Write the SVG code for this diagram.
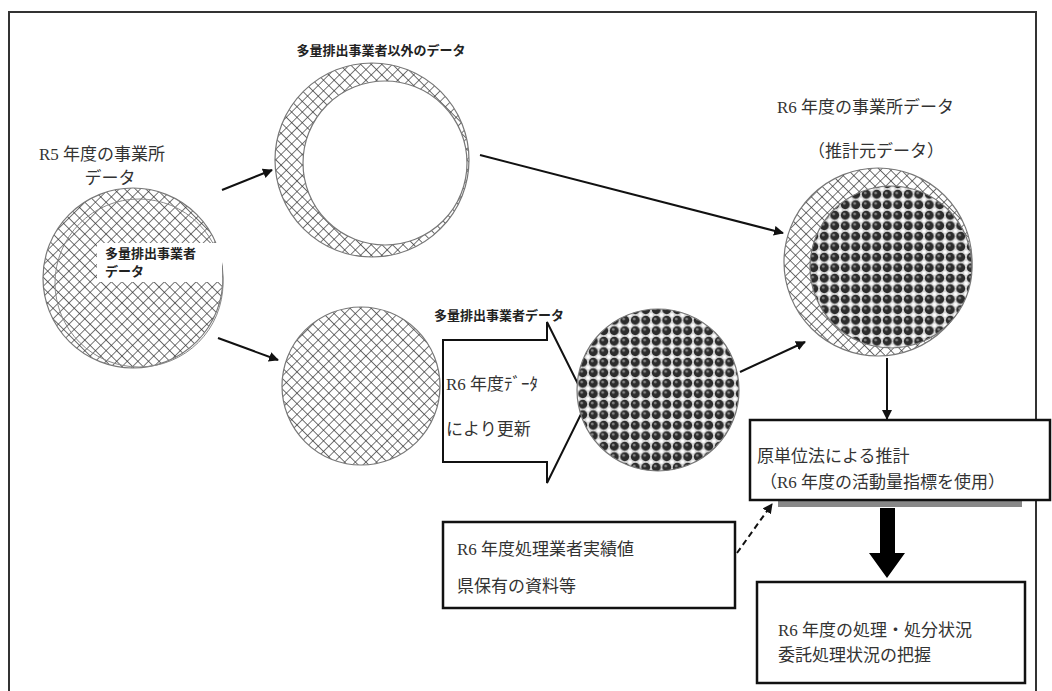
<svg xmlns="http://www.w3.org/2000/svg" width="1052" height="691" viewBox="0 0 1052 691">
<style>
.t{font-family:"Liberation Serif","Noto Sans CJK JP",serif;fill:#333;font-size:17px}
.b{font-family:"Noto Sans CJK JP","Liberation Sans",sans-serif;font-weight:bold;fill:#222;font-size:13px}
.ln{stroke:#111;stroke-width:2;fill:none}
.box{fill:#fff;stroke:#111;stroke-width:2.5}
.edge{stroke:#777;stroke-width:1.2}
</style>
<defs>
<pattern id="hatch" width="7.5" height="7.5" patternUnits="userSpaceOnUse" patternTransform="rotate(45)">
<rect width="7.5" height="7.5" fill="#fff"/>
<path d="M0 0H7.5M0 0V7.5" stroke="#333" stroke-width="1.3"/>
</pattern>
<pattern id="balls" width="10.5" height="10.5" patternUnits="userSpaceOnUse">
<rect width="10.5" height="10.5" fill="#d8d8d8"/>
<rect x="-1.6" y="-1.6" width="3.2" height="3.2" fill="#fff"/>
<rect x="8.9" y="-1.6" width="3.2" height="3.2" fill="#fff"/>
<rect x="-1.6" y="8.9" width="3.2" height="3.2" fill="#fff"/>
<rect x="8.9" y="8.9" width="3.2" height="3.2" fill="#fff"/>
<circle cx="5.25" cy="5.25" r="4.5" fill="#2c2c2c"/>
<circle cx="4.2" cy="4" r="1.3" fill="#8a8a8a"/>
</pattern>
<marker id="ah" viewBox="0 0 10 10" refX="9" refY="5" markerWidth="5" markerHeight="5" orient="auto" markerUnits="strokeWidth">
<path d="M0 0L10 5L0 10z" fill="#111"/>
</marker>
</defs>
<rect width="1052" height="691" fill="#fff"/>
<path d="M9 691V12H1036V691" fill="none" stroke="#333" stroke-width="2"/>

<g id="r5">
<text class="t" x="102" y="160" text-anchor="middle">R5 年度の事業所</text>
<text class="t" x="110" y="184" text-anchor="middle">データ</text>
<circle cx="133" cy="278" r="90" fill="url(#hatch)" class="edge"/>
<circle cx="139" cy="283" r="84" fill="none" stroke="#888" stroke-width="1"/>
<rect x="97" y="243" width="125" height="39" fill="#fff"/>
<text class="b" x="105" y="258" font-size="12">多量排出事業者</text>
<text class="b" x="105" y="276" font-size="12">データ</text>
</g>

<g id="other">
<text class="b" x="381" y="55" text-anchor="middle">多量排出事業者以外のデータ</text>
<circle cx="372" cy="160" r="97" fill="url(#hatch)" class="edge"/>
<circle cx="385" cy="163" r="82" fill="#fff" class="edge"/>
</g>

<g id="large">
<circle cx="361" cy="386" r="79" fill="url(#hatch)" class="edge"/>
</g>

<g id="update">
<text class="b" x="434" y="320">多量排出事業者データ</text>
<polygon points="443,340 547,340 547,322 587,402 547,483 547,462 443,462" fill="#fff" stroke="#111" stroke-width="2"/>
<text class="t" x="446" y="390">R6 年度ﾃﾞｰﾀ</text>
<text class="t" x="446" y="435">により更新</text>
</g>

<g id="r6large">
<circle cx="658" cy="390" r="81" fill="url(#balls)" class="edge"/>
</g>

<g id="r6">
<text class="t" x="777" y="113">R6 年度の事業所データ</text>
<text class="t" x="808" y="157">（推計元データ）</text>
<circle cx="878" cy="262" r="94" fill="url(#hatch)" class="edge"/>
<circle cx="891" cy="267" r="81" fill="url(#balls)" class="edge"/>
</g>

<g id="estimate">
<rect x="778" y="500" width="244" height="7" fill="#888"/>
<rect x="750" y="420" width="300" height="80" class="box"/>
<text class="t" x="757" y="462" font-size="19">原単位法による推計</text>
<text class="t" x="760" y="488" font-size="19">（R6 年度の活動量指標を使用）</text>
</g>

<g id="source">
<rect x="443" y="522" width="292" height="86" class="box"/>
<text class="t" x="457" y="555" font-size="19">R6 年度処理業者実績値</text>
<text class="t" x="457" y="592" font-size="19">県保有の資料等</text>
</g>

<g id="result">
<rect x="757" y="582" width="268" height="101" class="box"/>
<text class="t" x="778" y="636" font-size="19">R6 年度の処理・処分状況</text>
<text class="t" x="778" y="661" font-size="19">委託処理状況の把握</text>
</g>

<g id="connectors">
<line class="ln" x1="222" y1="190" x2="272" y2="170" marker-end="url(#ah)"/>
<line class="ln" x1="218" y1="338" x2="278" y2="360" marker-end="url(#ah)"/>
<line class="ln" x1="480" y1="155" x2="783" y2="233" marker-end="url(#ah)"/>
<line class="ln" x1="740" y1="372" x2="805" y2="342" marker-end="url(#ah)"/>
<line class="ln" x1="887" y1="358" x2="887" y2="419" marker-end="url(#ah)"/>
<line class="ln" x1="737" y1="553" x2="772" y2="504" stroke-dasharray="6 4" marker-end="url(#ah)"/>
<polygon points="880,508 895,508 895,553 905,553 887,578 869,553 880,553" fill="#000"/>
</g>
</svg>
